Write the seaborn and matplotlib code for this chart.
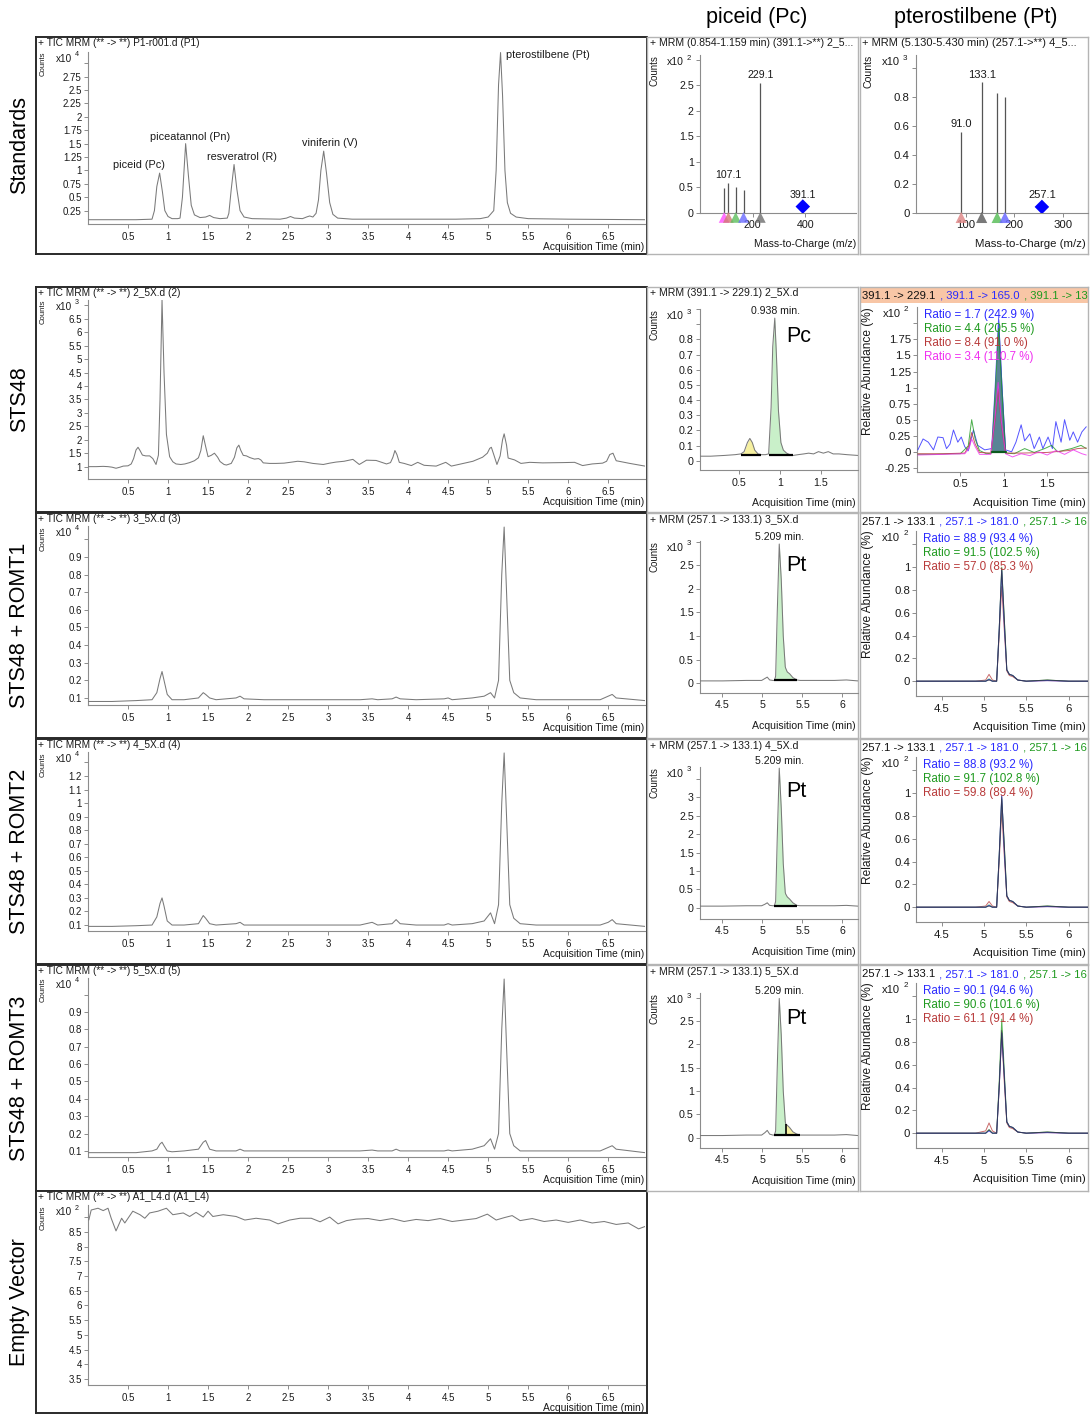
import matplotlib
matplotlib.use("Agg")
import matplotlib.pyplot as plt
from matplotlib.patches import Rectangle
import numpy as np
import seaborn as sns

sns.set_theme(style="white")
plt.rcParams['font.family'] = ['Liberation Sans', 'DejaVu Sans']

# ======================= DATA =======================
# --- Standards TIC (x10^4)
std_t = [0.00, 0.30, 0.60, 0.80, 0.83, 0.86, 0.895, 0.93, 0.96, 1.00, 1.05, 1.12, 1.15, 1.18, 1.22, 1.255,
         1.29, 1.33, 1.40, 1.47, 1.52, 1.57, 1.65, 1.74, 1.76, 1.79, 1.825, 1.86, 1.90, 1.95, 2.05, 2.40,
         2.48, 2.53, 2.58, 2.68, 2.73, 2.77, 2.81, 2.85, 2.88, 2.91, 2.945, 2.98, 3.02, 3.06, 3.12, 3.30,
         4.00, 4.60, 4.90, 5.00, 5.07, 5.10, 5.13, 5.155, 5.18, 5.21, 5.24, 5.28, 5.35, 5.50, 6.00, 6.96]
std_v = [0.08, 0.08, 0.08, 0.09, 0.25, 0.70, 0.95, 0.60, 0.25, 0.14, 0.10, 0.10, 0.11, 0.50, 1.50, 0.90,
         0.35, 0.17, 0.12, 0.13, 0.16, 0.12, 0.10, 0.11, 0.20, 0.65, 1.11, 0.65, 0.25, 0.13, 0.10, 0.09,
         0.11, 0.14, 0.11, 0.10, 0.13, 0.15, 0.13, 0.20, 0.45, 1.00, 1.36, 0.95, 0.40, 0.18, 0.11, 0.09,
         0.09, 0.09, 0.10, 0.13, 0.25, 1.00, 2.60, 3.20, 2.40, 1.00, 0.40, 0.20, 0.13, 0.10, 0.09, 0.08]
std_names = ["piceid (Pc)", "piceatannol (Pn)", "resveratrol (R)", "viniferin (V)", "pterostilbene (Pt)"]
std_label_t = [0.64, 1.275, 1.925, 3.025, 5.75]
std_label_v = [1.10, 1.62, 1.25, 1.51, 3.15]

# --- STS48 TIC (x10^3)
sts_t = [0.00, 0.10, 0.19, 0.25, 0.30, 0.35, 0.40, 0.44, 0.50, 0.54, 0.57, 0.60, 0.625, 0.65, 0.68, 0.72,
         0.77, 0.81, 0.85, 0.88, 0.90, 0.925, 0.95, 0.98, 1.02, 1.06, 1.10, 1.16, 1.21, 1.27, 1.33, 1.38,
         1.41, 1.44, 1.47, 1.50, 1.54, 1.58, 1.62, 1.65, 1.70, 1.73, 1.79, 1.83, 1.86, 1.885, 1.91, 1.94,
         1.98, 2.02, 2.08, 2.13, 2.16, 2.19, 2.27, 2.35, 2.45, 2.55, 2.62, 2.70, 2.81, 2.94, 3.02, 3.10,
         3.20, 3.31, 3.39, 3.48, 3.60, 3.73, 3.78, 3.81, 3.835, 3.86, 3.89, 3.95, 4.04, 4.12, 4.20, 4.35,
         4.47, 4.54, 4.66, 4.81, 4.93, 4.99, 5.02, 5.04, 5.07, 5.11, 5.15, 5.18, 5.20, 5.23, 5.25, 5.33,
         5.41, 5.52, 5.68, 5.93, 6.08, 6.18, 6.30, 6.43, 6.48, 6.52, 6.56, 6.60, 6.77, 6.96]
sts_v = [1.00, 1.00, 1.01, 1.00, 0.98, 0.94, 0.98, 1.02, 1.03, 1.10, 1.30, 1.62, 1.72, 1.60, 1.43, 1.40,
         1.40, 1.30, 1.08, 1.43, 3.50, 7.20, 4.50, 2.20, 1.37, 1.18, 1.10, 1.08, 1.10, 1.15, 1.22, 1.33,
         1.60, 2.15, 1.75, 1.37, 1.42, 1.50, 1.35, 1.19, 1.08, 1.06, 1.12, 1.35, 1.70, 1.80, 1.60, 1.42,
         1.40, 1.34, 1.28, 1.30, 1.25, 1.14, 1.12, 1.12, 1.13, 1.17, 1.20, 1.18, 1.12, 1.08, 1.13, 1.17,
         1.20, 1.27, 1.08, 1.24, 1.23, 1.10, 1.15, 1.35, 1.60, 1.45, 1.16, 1.12, 1.04, 1.16, 1.05, 1.02,
         1.16, 1.02, 1.10, 1.20, 1.35, 1.50, 1.68, 1.72, 1.45, 1.08, 1.40, 2.00, 2.22, 1.80, 1.32, 1.25,
         1.12, 1.16, 1.14, 1.15, 1.16, 1.04, 1.10, 1.13, 1.20, 1.45, 1.50, 1.22, 1.12, 1.02]

# --- ROMT1 / ROMT2 / ROMT3 TIC (x10^4)
romt_tic_t = [0.00, 0.30, 0.60, 0.80, 0.86, 0.90, 0.925, 0.95, 0.99, 1.05, 1.20, 1.38, 1.44, 1.47, 1.52,
              1.60, 1.85, 1.90, 1.95, 2.20, 2.60, 3.00, 3.40, 3.55, 3.62, 3.80, 3.85, 3.90, 4.10, 4.45,
              4.50, 4.55, 4.80, 4.95, 5.03, 5.08, 5.13, 5.17, 5.20, 5.23, 5.27, 5.32, 5.40, 5.60, 6.00,
              6.40, 6.50, 6.55, 6.60, 6.96]
romt1_tic_v = [0.08, 0.08, 0.085, 0.09, 0.13, 0.21, 0.25, 0.20, 0.12, 0.09, 0.09, 0.10, 0.13, 0.12, 0.10,
               0.09, 0.10, 0.11, 0.095, 0.09, 0.09, 0.09, 0.09, 0.095, 0.09, 0.095, 0.105, 0.095, 0.09, 0.095,
               0.10, 0.09, 0.10, 0.11, 0.13, 0.10, 0.20, 0.80, 1.07, 0.70, 0.20, 0.13, 0.10, 0.09, 0.09,
               0.09, 0.11, 0.12, 0.10, 0.085]
romt2_tic_v = [0.09, 0.09, 0.095, 0.10, 0.16, 0.26, 0.30, 0.24, 0.13, 0.10, 0.10, 0.11, 0.17, 0.15, 0.11,
               0.10, 0.11, 0.12, 0.10, 0.10, 0.10, 0.10, 0.10, 0.12, 0.10, 0.11, 0.14, 0.11, 0.10, 0.10,
               0.11, 0.10, 0.11, 0.13, 0.19, 0.11, 0.25, 1.00, 1.37, 0.90, 0.25, 0.15, 0.11, 0.10, 0.10,
               0.10, 0.12, 0.14, 0.11, 0.09]
romt3_tic_v = [0.09, 0.09, 0.09, 0.10, 0.11, 0.14, 0.15, 0.13, 0.10, 0.095, 0.10, 0.11, 0.15, 0.16, 0.11,
               0.10, 0.10, 0.11, 0.10, 0.10, 0.10, 0.10, 0.10, 0.105, 0.10, 0.10, 0.11, 0.10, 0.10, 0.10,
               0.105, 0.10, 0.11, 0.13, 0.17, 0.11, 0.20, 0.80, 1.09, 0.70, 0.20, 0.13, 0.10, 0.10, 0.10,
               0.10, 0.12, 0.13, 0.11, 0.09]

# --- Empty vector TIC (x10^2)
ev_t = [0.01, 0.04, 0.125, 0.19, 0.25, 0.29, 0.35, 0.42, 0.46, 0.56, 0.65, 0.71, 0.77, 0.875, 0.98, 1.06,
        1.19, 1.27, 1.35, 1.44, 1.50, 1.56, 1.69, 1.85, 1.96, 2.10, 2.27, 2.375, 2.52, 2.65, 2.79, 2.90,
        3.02, 3.125, 3.23, 3.35, 3.50, 3.65, 3.80, 3.95, 4.10, 4.25, 4.40, 4.55, 4.70, 4.85, 4.99, 5.10,
        5.20, 5.30, 5.40, 5.55, 5.70, 5.85, 6.00, 6.15, 6.30, 6.45, 6.60, 6.75, 6.88, 6.96]
ev_v = [8.90, 9.24, 9.30, 9.22, 9.30, 8.96, 8.53, 8.96, 8.80, 9.20, 9.08, 8.96, 9.14, 9.20, 9.30, 9.08,
        9.14, 9.02, 9.16, 9.00, 9.20, 9.02, 9.08, 9.02, 8.90, 8.96, 8.90, 8.77, 8.90, 8.96, 8.96, 8.84,
        9.00, 8.77, 8.88, 8.93, 8.95, 8.88, 8.95, 8.85, 8.92, 8.88, 8.95, 8.85, 8.90, 8.95, 9.10, 8.90,
        8.98, 9.05, 8.88, 8.95, 8.85, 8.90, 8.82, 8.90, 8.80, 8.85, 8.75, 8.80, 8.60, 8.68]

# --- MS/MS spectra (standards)
pc_ms_mz = [91.0, 107.1, 135.0, 165.0, 229.1]
pc_ms_h = [0.49, 0.59, 0.50, 0.44, 2.54]
pc_ms_col = ["#ff4dff", "#d07a70", "#5cbf5c", "#6a6aff", "#6e6e6e"]
pc_prec_mz, pc_prec_h = [391.1], [0.12]
pc_ms_labels = ["107.1", "229.1"]
pt_ms_mz = [91.0, 133.1, 165.0, 181.0]
pt_ms_h = [0.56, 0.90, 0.83, 0.80]
pt_ms_col = ["#e08a8a", "#626262", "#5cbf5c", "#6a6aff"]
pt_prec_mz, pt_prec_h = [257.1], [0.04]
pt_ms_labels = ["91.0", "133.1"]

# --- Piceid MRM (391.1 -> 229.1), x10^3
pc_t = [0.02, 0.15, 0.32, 0.45, 0.52, 0.56, 0.60, 0.63, 0.66, 0.69, 0.73, 0.77, 0.82, 0.86, 0.89, 0.91,
        0.935, 0.955, 0.98, 1.01, 1.04, 1.08, 1.12, 1.16, 1.22, 1.29, 1.35, 1.41, 1.47, 1.53, 1.59, 1.65,
        1.72, 1.82, 1.95]
pc_v = [0.03, 0.03, 0.035, 0.04, 0.045, 0.06, 0.12, 0.147, 0.12, 0.07, 0.045, 0.04, 0.04, 0.045, 0.35, 0.75,
        0.94, 0.70, 0.33, 0.12, 0.07, 0.05, 0.04, 0.035, 0.04, 0.045, 0.05, 0.045, 0.06, 0.05, 0.06, 0.045,
        0.045, 0.04, 0.035]
pc_rt = 0.938
pc_peaks = [(0.52, 0.77, "#f6f0a0"), (0.86, 1.16, "#c9f0c9")]
pc_base = 0.04

# --- Pterostilbene MRM (257.1 -> 133.1), x10^3
pt_t = [4.22, 4.50, 4.80, 4.99, 5.03, 5.06, 5.09, 5.13, 5.15, 5.165, 5.185, 5.21, 5.235, 5.26, 5.285, 5.29,
        5.31, 5.34, 5.38, 5.43, 5.47, 5.60, 5.90, 6.05, 6.19]
pt1_v = [0.05, 0.05, 0.06, 0.06, 0.10, 0.13, 0.07, 0.06, 0.06, 0.15, 1.50, 2.95, 2.20, 1.00, 0.35, 0.32,
         0.24, 0.20, 0.12, 0.07, 0.06, 0.06, 0.06, 0.07, 0.05]
pt2_v = [0.05, 0.05, 0.06, 0.06, 0.10, 0.14, 0.07, 0.06, 0.06, 0.18, 1.90, 3.78, 2.70, 1.20, 0.42, 0.38,
         0.30, 0.24, 0.14, 0.07, 0.06, 0.06, 0.06, 0.07, 0.05]
pt3_v = [0.05, 0.05, 0.06, 0.06, 0.11, 0.16, 0.08, 0.06, 0.06, 0.15, 1.50, 2.98, 2.20, 1.00, 0.35, 0.30,
         0.27, 0.22, 0.13, 0.08, 0.06, 0.06, 0.06, 0.07, 0.05]
pt_rt = 5.209
pt_base = 0.06
pt1_peaks = [(5.15, 5.43, "#c9f0c9")]
pt2_peaks = [(5.15, 5.43, "#c9f0c9")]
pt3_peaks = [(5.15, 5.29, "#c9f0c9"), (5.29, 5.47, "#f6f0a0")]

# --- Qualifier overlays, STS48 (piceid), x10^2 %
q_pc_blue_t = [0.01, 0.07, 0.13, 0.19, 0.24, 0.30, 0.34, 0.38, 0.42, 0.47, 0.51, 0.55, 0.59, 0.65, 0.70,
               0.78, 0.86, 0.90, 0.94, 0.98, 1.02, 1.09, 1.14, 1.20, 1.24, 1.30, 1.35, 1.41, 1.45, 1.51,
               1.56, 1.60, 1.66, 1.70, 1.76, 1.80, 1.85, 1.90, 1.95]
q_pc_blue_v = [0.03, 0.20, 0.15, 0.03, 0.23, 0.22, 0.05, 0.12, 0.34, 0.15, 0.23, 0.08, 0.015, 0.34, 0.10,
               0.03, 0.05, 1.00, 2.08, 1.00, 0.03, 0.00, 0.15, 0.42, 0.17, 0.28, 0.05, 0.23, 0.05, 0.23,
               0.05, 0.47, 0.15, 0.50, 0.18, 0.31, 0.15, 0.31, 0.39]
q_pc_green_t = [0.01, 0.20, 0.40, 0.50, 0.59, 0.63, 0.67, 0.72, 0.80, 0.86, 0.90, 0.94, 0.98, 1.02, 1.12,
                1.24, 1.35, 1.47, 1.55, 1.62, 1.78, 1.89, 1.95]
q_pc_green_v = [-0.04, -0.04, -0.03, -0.03, 0.09, 0.50, 0.20, 0.02, -0.03, -0.02, 0.90, 1.92, 0.90, -0.02,
                -0.03, 0.05, -0.01, 0.05, 0.10, 0.00, 0.05, 0.10, 0.05]
q_pc_red_t = [0.01, 0.30, 0.55, 0.60, 0.63, 0.67, 0.72, 0.85, 0.90, 0.935, 0.97, 1.02, 1.20, 1.50, 1.75,
              1.85, 1.95]
q_pc_red_v = [-0.03, -0.03, -0.02, 0.10, 0.30, 0.12, -0.01, -0.02, 0.50, 0.99, 0.45, -0.02, -0.02, -0.01,
              0.02, 0.05, 0.06]
q_pc_mag_t = [0.01, 0.30, 0.55, 0.60, 0.63, 0.67, 0.72, 0.85, 0.90, 0.935, 0.97, 1.02, 1.10, 1.20, 1.30,
              1.40, 1.50, 1.60, 1.70, 1.80, 1.90, 1.95]
q_pc_mag_v = [-0.05, -0.04, -0.03, 0.05, 0.20, 0.08, -0.04, -0.04, 0.55, 1.08, 0.50, -0.03, -0.08, -0.03,
              -0.06, 0.00, -0.05, 0.02, -0.04, 0.03, -0.03, -0.05]
q_pc_fill = (0.86, 1.02)
q_pc_ratios = ["Ratio = 1.7 (242.9 %)", "Ratio = 4.4 (205.5 %)", "Ratio = 8.4 (91.0 %)", "Ratio = 3.4 (110.7 %)"]
q_pc_header = ["391.1 -> 229.1", " , 391.1 -> 165.0", " , 391.1 -> 13"]

# --- Qualifier overlays, pterostilbene (ROMT1-3), x10^2 %
q_t = [4.20, 4.60, 4.90, 5.02, 5.06, 5.10, 5.15, 5.18, 5.21, 5.24, 5.27, 5.30, 5.34, 5.40, 5.50, 5.75, 6.00, 6.23]
q1_black = [0, 0, 0, 0.00, 0.010, 0, 0.00, 0.45, 0.99, 0.55, 0.10, 0.06, 0.05, 0.01, 0, 0.010, 0, 0]
q1_blue = [0, 0, 0, 0.00, 0.015, 0, 0.00, 0.45, 0.97, 0.50, 0.10, 0.06, 0.05, 0.01, 0, 0.005, 0, 0]
q1_green = [0, 0, 0, 0.00, 0.020, 0, 0.00, 0.45, 1.00, 0.55, 0.10, 0.06, 0.05, 0.01, 0, 0.010, 0, 0]
q1_red = [0, 0, 0, 0.01, 0.060, 0.01, 0.00, 0.40, 0.83, 0.45, 0.09, 0.05, 0.04, 0.01, 0, 0.005, 0, 0]
q2_black = [0, 0, 0, 0.00, 0.010, 0, 0.00, 0.45, 0.97, 0.55, 0.10, 0.06, 0.05, 0.01, 0, 0.010, 0, 0]
q2_blue = [0, 0, 0, 0.00, 0.015, 0, 0.00, 0.45, 0.98, 0.50, 0.10, 0.06, 0.05, 0.01, 0, 0.005, 0, 0]
q2_green = [0, 0, 0, 0.00, 0.020, 0, 0.00, 0.45, 0.95, 0.55, 0.10, 0.06, 0.05, 0.01, 0, 0.010, 0, 0]
q2_red = [0, 0, 0, 0.01, 0.050, 0.01, 0.00, 0.40, 0.85, 0.45, 0.09, 0.05, 0.04, 0.01, 0, 0.005, 0, 0]
q3_black = [0, 0, 0, 0.00, 0.030, 0, 0.00, 0.40, 0.90, 0.50, 0.10, 0.06, 0.05, 0.01, 0, 0.010, 0, 0]
q3_blue = [0, 0, 0, 0.00, 0.020, 0, 0.00, 0.40, 0.88, 0.50, 0.10, 0.06, 0.05, 0.01, 0, 0.005, 0, 0]
q3_green = [0, 0, 0, 0.00, 0.030, 0, 0.00, 0.45, 1.00, 0.55, 0.10, 0.06, 0.05, 0.01, 0, 0.010, 0, 0]
q3_red = [0, 0, 0, 0.02, 0.090, 0.02, 0.00, 0.40, 0.88, 0.45, 0.09, 0.05, 0.04, 0.01, 0, 0.005, 0, 0]
q_pt_header = ["257.1 -> 133.1", " , 257.1 -> 181.0", " , 257.1 -> 16"]
q1_ratios = ["Ratio = 88.9 (93.4 %)", "Ratio = 91.5 (102.5 %)", "Ratio = 57.0 (85.3 %)"]
q2_ratios = ["Ratio = 88.8 (93.2 %)", "Ratio = 91.7 (102.8 %)", "Ratio = 59.8 (89.4 %)"]
q3_ratios = ["Ratio = 90.1 (94.6 %)", "Ratio = 90.6 (101.6 %)", "Ratio = 61.1 (91.4 %)"]

row_names = ["Standards", "STS48", "STS48 + ROMT1", "STS48 + ROMT2", "STS48 + ROMT3", "Empty Vector"]
col_names = ["piceid (Pc)", "pterostilbene (Pt)"]
tic_titles = ["+ TIC MRM (** -> **) P1-r001.d (P1)", "+ TIC MRM (** -> **) 2_5X.d (2)",
              "+ TIC MRM (** -> **) 3_5X.d (3)", "+ TIC MRM (** -> **) 4_5X.d (4)",
              "+ TIC MRM (** -> **) 5_5X.d (5)", "+ TIC MRM (** -> **) A1_L4.d (A1_L4)"]
mrm_titles = ["+ MRM (0.854-1.159 min) (391.1->**) 2_5...", "+ MRM (391.1 -> 229.1) 2_5X.d",
              "+ MRM (257.1 -> 133.1) 3_5X.d", "+ MRM (257.1 -> 133.1) 4_5X.d",
              "+ MRM (257.1 -> 133.1) 5_5X.d"]
pt_spec_title = "+ MRM (5.130-5.430 min) (257.1->**) 4_5..."

# ======================= STYLE / LAYOUT =======================
W, H = 1091, 1414
fig = plt.figure(figsize=(W / 100, H / 100), dpi=100)
fig.patch.set_facecolor("white")
GREY = "#8c8c8c"
TRACE = "#7a7a7a"
TXT = "#1a1a1a"
BLUE, GREEN, RED, MAG = "#2a2aff", "#1f9a1f", "#b83a3a", "#f030f0"


def R(x0, y0, x1, y1):
    return [x0 / W, 1 - y1 / H, (x1 - x0) / W, (y1 - y0) / H]


def T(x, y, s, **kw):
    kw.setdefault("color", TXT)
    return fig.text(x / W, 1 - y / H, s, **kw)


def frame(x0, y0, x1, y1, ec, lw):
    ax = fig.add_axes(R(x0, y0, x1, y1), zorder=0)
    ax.set_xticks([]); ax.set_yticks([])
    ax.set_facecolor("white")
    for s in ax.spines.values():
        s.set_edgecolor(ec); s.set_linewidth(lw); s.set_visible(True)
    return ax


def pax(box):
    ax = fig.add_axes(R(*box), zorder=2)
    ax.set_facecolor("none")
    return ax


def fin(ax, xlim, ylim, xt, yt, ymaxlab, fs):
    ax.set_xlim(*xlim); ax.set_ylim(*ylim)
    ax.set_xticks(xt); ax.set_xticklabels([f"{v:g}" for v in xt])
    ax.set_yticks(yt)
    ax.set_yticklabels([f"{v:g}" if v <= ymaxlab + 1e-9 else "" for v in yt])
    ax.set_xlabel(""); ax.set_ylabel("")
    ax.spines["top"].set_visible(False); ax.spines["right"].set_visible(False)
    for s in ("left", "bottom"):
        ax.spines[s].set_visible(True); ax.spines[s].set_color(GREY); ax.spines[s].set_linewidth(0.8)
    ax.tick_params(axis="both", which="major", length=3, width=0.7, color=GREY, labelsize=fs,
                   labelcolor=TXT, left=True, bottom=True)
    ax.tick_params(axis="y", pad=1.5)
    ax.tick_params(axis="x", pad=2.5)
    ax.grid(False)


def mult(axx, axtop, exp, fs):
    T(axx - 16, axtop + 7, "x10", ha="right", va="center", fontsize=fs)
    T(axx - 13, axtop + 3, str(exp), ha="left", va="center", fontsize=fs * 0.72)


def trace(ax, t, v, color=TRACE, lw=0.8, alpha=1.0, z=3):
    sns.lineplot(x=t, y=v, ax=ax, color=color, linewidth=lw, alpha=alpha, estimator=None,
                 sort=False, zorder=z, legend=False)


def fill_peaks(ax, t, v, peaks, base):
    ta, va = np.array(t), np.array(v)
    for lo, hi, col in peaks:
        m = (ta >= lo - 1e-9) & (ta <= hi + 1e-9)
        ax.fill_between(ta[m], base, va[m], color=col, zorder=2, linewidth=0)
        ax.plot([lo, hi], [base, base], color="black", lw=1.6, zorder=4, solid_capstyle="butt")


# -------- row / column labels
left_boxes = [(36, 37, 647, 254), (36, 287, 647, 512), (36, 513, 647, 738), (36, 739, 647, 964),
              (36, 965, 647, 1191), (36, 1191, 647, 1413)]
mid_boxes = [(647, 37, 858, 254), (647, 287, 858, 512), (647, 513, 858, 738), (647, 739, 858, 964),
             (647, 965, 858, 1191)]
right_boxes = [(860, 37, 1088, 254), (860, 287, 1088, 512), (860, 513, 1088, 738), (860, 739, 1088, 964),
               (860, 965, 1088, 1191)]

for name, b in zip(row_names, left_boxes):
    T(20, (b[1] + b[3]) / 2, name, rotation=90, ha="center", va="center", fontsize=15.5, color="black")
T(757, 18, col_names[0], ha="center", va="center", fontsize=15.5, color="black")
T(976, 18, col_names[1], ha="center", va="center", fontsize=15.5, color="black")

frames_l = [frame(*b, "#2a2a2a", 1.4) for b in left_boxes]
frames_m = [frame(*b, "#b4b4b4", 1.0) for b in mid_boxes]
frames_r = [frame(*b, "#b4b4b4", 1.0) for b in right_boxes]

# -------- LEFT column: TIC chromatograms
FS_L = 7.0
left_axes = [(88, 52, 645, 224), (88, 300, 645, 479), (88, 526, 645, 705), (88, 752, 645, 931),
             (88, 978, 645, 1157), (88, 1205, 645, 1385)]
tic_data = [(std_t, std_v), (sts_t, sts_v), (romt_tic_t, romt1_tic_v), (romt_tic_t, romt2_tic_v),
            (romt_tic_t, romt3_tic_v), (ev_t, ev_v)]
tic_ylim = [(0, 3.21), (0.54, 7.2), (0.06, 1.076), (0.056, 1.377), (0.065, 1.096), (3.3, 9.41)]
tic_yt = [np.round(np.arange(0.25, 3.01, 0.25), 2), np.round(np.arange(1, 7.01, 0.5), 2),
          np.round(np.arange(0.1, 1.01, 0.1), 2), np.round(np.arange(0.1, 1.31, 0.1), 2),
          np.round(np.arange(0.1, 1.01, 0.1), 2), np.round(np.arange(3.5, 9.01, 0.5), 2)]
tic_ymax = [2.75, 6.5, 0.9, 1.2, 0.9, 8.5]
tic_exp = [4, 3, 4, 4, 4, 2]
tic_xt = [0.5, 1, 1.5, 2, 2.5, 3, 3.5, 4, 4.5, 5, 5.5, 6, 6.5]

for i, box in enumerate(left_axes):
    ax = pax(box)
    t, v = tic_data[i]
    trace(ax, t, v, lw=0.75)
    fin(ax, (0, 6.96), tic_ylim[i], tic_xt, tic_yt[i], tic_ymax[i], FS_L)
    if i == 0:
        for nm, lt, lv in zip(std_names, std_label_t, std_label_v):
            ax.text(lt, lv, nm, ha="center", va="center", fontsize=7.8, color=TXT)
    lb = left_boxes[i]
    T(38, lb[1] + 5.5, tic_titles[i], ha="left", va="center", fontsize=7.3)
    T(43, box[1], "Counts", rotation=90, ha="center", va="top", fontsize=5.6)
    mult(box[0], box[1], tic_exp[i], 7.2)
    T(644, box[3] + 23, "Acquisition Time (min)", ha="right", va="center", fontsize=7.4)

# -------- MIDDLE column
FS_M = 7.7
# spectrum (standards, piceid)
ax = pax((700, 55, 856, 212.7))
ylim = (0, 3.09)
ax.vlines(pc_ms_mz, 0, pc_ms_h, color="#555555", lw=0.9, zorder=3)
tri_y = ylim[0] - 0.03 * (ylim[1] - ylim[0])
sns.scatterplot(x=pc_ms_mz, y=[tri_y] * len(pc_ms_mz), ax=ax, marker="^", s=60, c=pc_ms_col,
                edgecolor="none", alpha=0.8, zorder=5, clip_on=False, legend=False)
sns.scatterplot(x=pc_prec_mz, y=pc_prec_h, ax=ax, marker="D", s=55, color="#0000ff", edgecolor="none",
                zorder=5, legend=False)
for mz, h in zip(pc_ms_mz, pc_ms_h):
    if f"{mz:.1f}" in pc_ms_labels:
        ax.annotate(f"{mz:.1f}", (mz, h), xytext=(0, 2), textcoords="offset points", ha="center",
                    va="bottom", fontsize=7.6, color=TXT)
ax.annotate(f"{pc_prec_mz[0]:.1f}", (pc_prec_mz[0], pc_prec_h[0]), xytext=(0, 5), textcoords="offset points",
            ha="center", va="bottom", fontsize=7.6, color=TXT)
fin(ax, (-1, 594), ylim, [200, 400], np.round(np.arange(0, 3.01, 0.5), 2), 2.5, FS_M)
T(650, 43, mrm_titles[0], ha="left", va="center", fontsize=7.6)
T(655, 55, "Counts", rotation=90, ha="center", va="top", fontsize=7.0)
mult(700, 55, 2, 7.6)
T(856, 244, "Mass-to-Charge (m/z)", ha="right", va="center", fontsize=7.6)

# Pc MRM (STS48)
ax = pax((700, 309, 857.7, 470))
fill_peaks(ax, pc_t, pc_v, pc_peaks, pc_base)
trace(ax, pc_t, pc_v, lw=0.75)
ax.annotate(f"{pc_rt:.3f} min.", (pc_rt, max(pc_v)), xytext=(0, 1.5), textcoords="offset points",
            ha="center", va="bottom", fontsize=7.6, color=TXT, annotation_clip=False)
ax.text(0.545, 0.83, "Pc", transform=ax.transAxes, ha="left", va="center", fontsize=15.5, color="black")
fin(ax, (0.02, 1.95), (-0.061, 0.998), [0.5, 1, 1.5], np.round(np.arange(0, 1.01, 0.1), 2), 0.8, FS_M)
T(650, 293, mrm_titles[1], ha="left", va="center", fontsize=7.6)
T(655, 309, "Counts", rotation=90, ha="center", va="top", fontsize=7.0)
mult(700, 309, 3, 7.6)
T(856, 503, "Acquisition Time (min)", ha="right", va="center", fontsize=7.6)

# Pt MRM (ROMT1-3)
pt_boxes = [(700, 540.7, 857.7, 692.7), (700, 766.7, 857.7, 918.7), (700, 993.3, 857.7, 1147.7)]
pt_vals = [pt1_v, pt2_v, pt3_v]
pt_fills = [pt1_peaks, pt2_peaks, pt3_peaks]
pt_ylims = [(-0.2, 3.02), (-0.29, 3.82), (-0.21, 3.09)]
pt_yt = [np.round(np.arange(0, 3.01, 0.5), 2), np.round(np.arange(0, 3.51, 0.5), 2),
         np.round(np.arange(0, 3.01, 0.5), 2)]
pt_ymax = [2.5, 3.0, 2.5]
for i, box in enumerate(pt_boxes):
    ax = pax(box)
    fill_peaks(ax, pt_t, pt_vals[i], pt_fills[i], pt_base)
    if len(pt_fills[i]) > 1:
        split = pt_fills[i][0][1]
        vs = pt_vals[i][pt_t.index(split)]
        ax.vlines([split], pt_base, vs, color="black", lw=1.2, zorder=4)
    trace(ax, pt_t, pt_vals[i], lw=0.75)
    ax.annotate(f"{pt_rt:.3f} min.", (pt_rt, max(pt_vals[i])), xytext=(0, 1.5), textcoords="offset points",
                ha="center", va="bottom", fontsize=7.6, color=TXT, annotation_clip=False)
    ax.text(0.545, 0.84, "Pt", transform=ax.transAxes, ha="left", va="center", fontsize=15.5, color="black")
    fin(ax, (4.22, 6.19), pt_ylims[i], [4.5, 5, 5.5, 6], pt_yt[i], pt_ymax[i], FS_M)
    mb = mid_boxes[i + 2]
    T(650, mb[1] + 7, mrm_titles[i + 2], ha="left", va="center", fontsize=7.6)
    T(655, box[1], "Counts", rotation=90, ha="center", va="top", fontsize=7.0)
    mult(700, box[1], 3, 7.6)
    T(856, box[3] + 33, "Acquisition Time (min)", ha="right", va="center", fontsize=7.6)

# -------- RIGHT column
FS_R = 8.2
ax = pax((916, 55, 1088, 212.7))
ylim = (0, 1.09)
ax.vlines(pt_ms_mz, 0, pt_ms_h, color="#555555", lw=0.9, zorder=3)
tri_y = ylim[0] - 0.03 * (ylim[1] - ylim[0])
sns.scatterplot(x=pt_ms_mz, y=[tri_y] * len(pt_ms_mz), ax=ax, marker="^", s=65, c=pt_ms_col,
                edgecolor="none", alpha=0.85, zorder=5, clip_on=False, legend=False)
sns.scatterplot(x=pt_prec_mz, y=pt_prec_h, ax=ax, marker="D", s=55, color="#0000ff", edgecolor="none",
                zorder=5, legend=False)
for mz, h in zip(pt_ms_mz, pt_ms_h):
    if f"{mz:.1f}" in pt_ms_labels:
        ax.annotate(f"{mz:.1f}", (mz, h), xytext=(0, 2), textcoords="offset points", ha="center",
                    va="bottom", fontsize=8.0, color=TXT)
ax.annotate(f"{pt_prec_mz[0]:.1f}", (pt_prec_mz[0], pt_prec_h[0]), xytext=(0, 5), textcoords="offset points",
            ha="center", va="bottom", fontsize=8.0, color=TXT)
fin(ax, (-2, 352), ylim, [100, 200, 300], np.round(np.arange(0, 1.01, 0.2), 2), 0.8, FS_R)
T(862, 43, pt_spec_title, ha="left", va="center", fontsize=8.0)
T(868, 55, "Counts", rotation=90, ha="center", va="top", fontsize=7.6)
mult(916, 55, 3, 8.0)
T(1086, 244, "Mass-to-Charge (m/z)", ha="right", va="center", fontsize=8.2)


def header_texts(fr, pieces, xs, colors):
    for s, x, c in zip(pieces, xs, colors):
        fr.text((x - 860) / 228, 1 - 9 / 225, s, transform=fr.transAxes, ha="left", va="center",
                fontsize=8.1, color=c)


def ratio_texts(axbox, texts, colors):
    for k, (s, c) in enumerate(zip(texts, colors)):
        T(axbox[0] + 7, axbox[1] + 8.5 + 14 * k, s, ha="left", va="center", fontsize=8.4, color=c)


# STS48 qualifier overlay
box = (917, 306.7, 1088, 471.7)
ax = pax(box)
bt, bv = np.array(q_pc_blue_t), np.array(q_pc_blue_v)
m = (bt >= q_pc_fill[0]) & (bt <= q_pc_fill[1])
ax.fill_between(bt[m], 0, bv[m], color="#3d6f84", alpha=0.85, zorder=2, linewidth=0)
trace(ax, q_pc_blue_t, q_pc_blue_v, color=BLUE, lw=0.7, alpha=0.8)
trace(ax, q_pc_green_t, q_pc_green_v, color=GREEN, lw=0.7, alpha=0.8)
trace(ax, q_pc_red_t, q_pc_red_v, color=RED, lw=0.7, alpha=0.8)
trace(ax, q_pc_mag_t, q_pc_mag_v, color=MAG, lw=0.7, alpha=0.8)
ax.plot(list(q_pc_fill), [0, 0], color="#0b5a1e", lw=1.6, zorder=4)
fin(ax, (0, 1.97), (-0.31, 2.26), [0.5, 1, 1.5], np.round(np.arange(-0.25, 2.01, 0.25), 2), 1.75, FS_R)
fr = frames_r[1]
fr.add_patch(Rectangle((0, 1 - 16 / 225), 1, 16 / 225, transform=fr.transAxes, facecolor="#f8c6a6",
                       edgecolor="none", zorder=0))
header_texts(fr, q_pc_header, [862, 937, 1021], ["#111111", BLUE, GREEN])
ratio_texts(box, q_pc_ratios, [BLUE, GREEN, RED, MAG])
T(868, box[1] + 1, "Relative Abundance (%)", rotation=90, ha="center", va="top", fontsize=8.6)
mult(box[0], box[1], 2, 8.0)
T(1086, box[3] + 31, "Acquisition Time (min)", ha="right", va="center", fontsize=8.2)

# ROMT1-3 qualifier overlays
q_boxes = [(916.3, 530.7, 1088, 696), (916.3, 756.7, 1088, 922), (916.3, 982.7, 1088, 1148)]
q_sets = [(q1_black, q1_blue, q1_green, q1_red), (q2_black, q2_blue, q2_green, q2_red),
          (q3_black, q3_blue, q3_green, q3_red)]
q_ratio_sets = [q1_ratios, q2_ratios, q3_ratios]
for i, box in enumerate(q_boxes):
    ax = pax(box)
    blk, blu, grn, red = q_sets[i]
    trace(ax, q_t, red, color=RED, lw=0.7, alpha=0.75)
    trace(ax, q_t, grn, color=GREEN, lw=0.7, alpha=0.75)
    trace(ax, q_t, blu, color=BLUE, lw=0.7, alpha=0.75)
    trace(ax, q_t, blk, color="#333333", lw=0.7, alpha=0.75)
    fin(ax, (4.2, 6.23), (-0.13, 1.32), [4.5, 5, 5.5, 6], np.round(np.arange(0, 1.21, 0.2), 2), 1.0, FS_R)
    fr = frames_r[i + 2]
    header_texts(fr, q_pt_header, [862, 936, 1020], ["#111111", BLUE, GREEN])
    ratio_texts(box, q_ratio_sets[i], [BLUE, GREEN, RED])
    T(868, box[1], "Relative Abundance (%)", rotation=90, ha="center", va="top", fontsize=8.6)
    mult(box[0], box[1], 2, 8.0)
    T(1086, box[3] + 31, "Acquisition Time (min)", ha="right", va="center", fontsize=8.2)

fig.savefig("out.png", dpi=100, facecolor="white")
